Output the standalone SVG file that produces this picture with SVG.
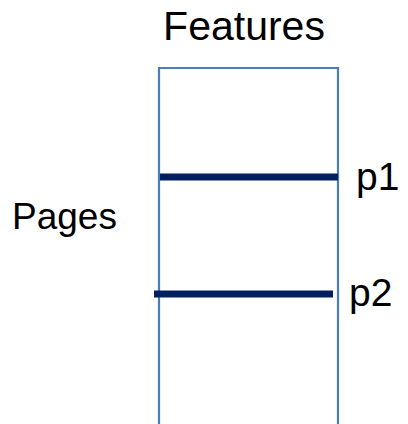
<svg xmlns="http://www.w3.org/2000/svg" width="408" height="424" viewBox="0 0 408 424">
  <style>
    .frame { fill: none; stroke: #4a7ebb; stroke-width: 2.2; }
    .page { stroke: #002060; stroke-width: 7; }
    .label { font-family: "Liberation Sans", Arial, sans-serif; fill: #000; }
  </style>
  <rect width="408" height="424" fill="#fff"/>
  <g id="matrix">
    <path class="frame" d="M159 424 V68 H338 V424"/>
    <text class="label" x="244" y="40" font-size="41" text-anchor="middle">Features</text>
    <text class="label" x="12" y="229" font-size="37">Pages</text>
  </g>
  <g id="connectors">
    <line class="page" x1="160" y1="177" x2="338" y2="177"/>
    <line class="page" x1="154" y1="294" x2="333" y2="294"/>
  </g>
  <g id="p1">
    <text class="label" x="356" y="190" font-size="39">p1</text>
  </g>
  <g id="p2">
    <text class="label" x="349" y="306" font-size="39">p2</text>
  </g>
</svg>
